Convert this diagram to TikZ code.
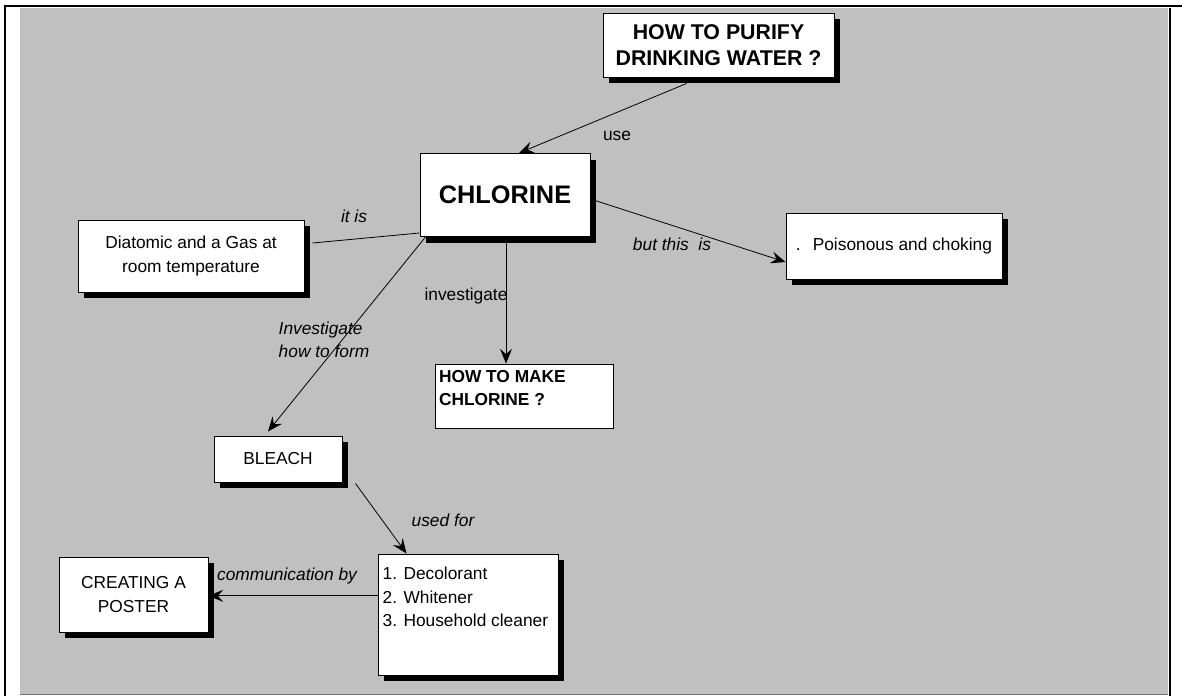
\documentclass[tikz,border=0pt]{standalone}
\usepackage{fontspec}
\setmainfont{Liberation Sans}
\usepackage{tikz}
\usetikzlibrary{arrows.meta,shadows}
\usepackage{xcolor}
\definecolor{mapgrey}{RGB}{192,192,192}
\definecolor{mapedge}{RGB}{110,110,110}
\tikzstyle{concept} = [rectangle, draw=black, fill=white, line width=0.75pt, inner sep=0pt, align=center, font=\fontsize{13}{17.5}\selectfont, drop shadow={shadow xshift=4.5pt, shadow yshift=-4.5pt, fill=black, opacity=1}]
\tikzstyle{flat} = [rectangle, draw=black, fill=white, line width=0.75pt]
\tikzstyle{arrow} = [line width=0.6pt, -{Stealth[length=11pt,width=9pt,inset=4pt]}]
\tikzstyle{link} = [line width=0.6pt]
\tikzstyle{linklabel} = [inner sep=0pt, font=\fontsize{13}{17.5}\selectfont]
\tikzstyle{linkitalic} = [inner sep=0pt, font=\fontsize{13}{17.5}\selectfont\itshape]
\newcommand{\toptext}[3]{\parbox[c][#2][t]{#1}{\fontsize{13}{17.5}\selectfont #3}}

\begin{document}
\begin{tikzpicture}[x=0.75pt, y=-0.75pt]
% frame and background
\useasboundingbox (0,0) rectangle (1182,696);
\fill[mapgrey] (20,8) rectangle (1168,694);
\draw[mapedge, line width=0.75pt] (20,694.5) -- (1168,694.5);
\draw[line width=1.5pt] (5,696) -- (5,6) -- (1182,6);
\draw[line width=1.5pt] (1170,8) -- (1170,696);

% concepts
\node[concept, minimum width=173.25pt, minimum height=48pt, font=\fontsize{16}{20}\selectfont\bfseries] (purify) at (718.5,45) {HOW TO PURIFY\\DRINKING WATER ?};
\node[concept, minimum width=127.5pt, minimum height=62.25pt, font=\fontsize{19}{22}\selectfont\bfseries] (chlorine) at (505,195) {CHLORINE};
\node[concept, minimum width=169.5pt, minimum height=54pt] (diatomic) at (191,256) {Diatomic and a Gas at\\room temperature};
\node[concept, minimum width=162pt, minimum height=49.5pt] (poison) at (894,246) {.\hspace{9pt}Poisonous and choking};
\node[flat, inner xsep=3pt, inner ysep=4.5pt, font=\bfseries] (make) at (524,396) {\toptext{127.5pt}{39pt}{HOW TO MAKE\\CHLORINE ?}};
\node[concept, minimum width=96pt, minimum height=34.5pt] (bleach) at (278,459) {BLEACH};
\node[concept, inner xsep=3.5pt, inner ysep=10pt] (uses) at (468,614.5) {\toptext{128pt}{70.75pt}{1. Decolorant\\2. Whitener\\3. Household cleaner}};
\node[concept, minimum width=111.75pt, minimum height=56.25pt] (poster) at (133.5,594.5) {CREATING A\\POSTER};

% links
\draw[arrow] ([xshift=-24pt,yshift=-4.5pt]purify.south) -- ([xshift=10.5pt]chlorine.north);
\draw[link] ([xshift=6pt,yshift=9.75pt]diatomic.east) -- ([yshift=3pt]chlorine.south west);
\draw[arrow] ([xshift=2.25pt,yshift=-3.75pt]chlorine.east) -- ([yshift=-12pt]poison.west);
\draw[arrow] ([xshift=0.75pt,yshift=-4.5pt]chlorine.south) -- ([xshift=0.75pt]chlorine.south |- make.north);
\draw[arrow] ([xshift=4.5pt]chlorine.south west) -- ([xshift=-7.5pt,yshift=3pt]bleach.north);
\draw[arrow] ([xshift=9.75pt,yshift=-0.75pt]bleach.south east) -- ([xshift=21.75pt]uses.north west);
\draw[arrow] ([yshift=14pt]uses.west) -- ([yshift=14pt]uses.west -| poster.east);

% link labels
\node[linklabel] (uselbl) at (617,136) {use};
\node[linkitalic] (itislbl) at (354,216) {it is};
\node[linkitalic] (butlbl) at (672,244) {but this\ \ is};
\node[linklabel] (invlbl) at (466,296) {investigate};
\node[linkitalic, align=left] (formlbl) at (324,340) {Investigate\\how to form};
\node[linkitalic] (usedlbl) at (443,520) {used for};
\node[linkitalic] (commlbl) at (287,576) {communication by};
\end{tikzpicture}
\end{document}
